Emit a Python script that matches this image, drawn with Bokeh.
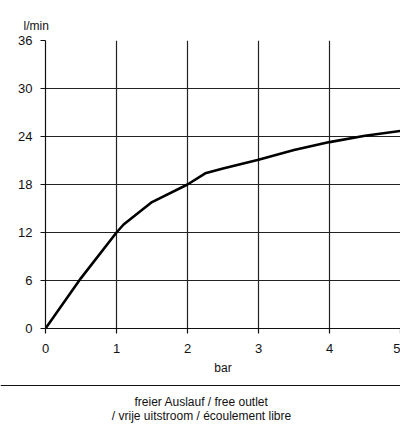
from bokeh.plotting import figure
from bokeh.layouts import column
from bokeh.models import Range1d, FixedTicker, Title
from bokeh.core.properties import value
from bokeh.embed import file_html
from bokeh.resources import INLINE

# data
pressure_bar = [0, 0.5, 1, 1.1, 1.5, 2, 2.25, 2.5, 3, 3.5, 4, 4.5, 5]
flow_lmin = [0, 6.3, 12, 13.0, 15.8, 18, 19.4, 20.0, 21.1, 22.3, 23.3, 24.1, 24.7]
x_ticks = [0, 1, 2, 3, 4, 5]
y_ticks = [0, 6, 12, 18, 24, 30, 36]
y_unit = "l/min"
x_unit = "bar"
footer_lines = ["freier Auslauf / free outlet", "/ vrije uitstroom / écoulement libre"]

FONT = "'Liberation Sans Narrow', 'Liberation Sans', Arial, sans-serif"
INK = "#111111"

p = figure(width=400, height=377, output_backend="svg", toolbar_location=None,
           x_range=Range1d(0, 5), y_range=Range1d(0, 36))
p.min_border_left = 45
p.min_border_top = 40
p.min_border_right = 0
p.min_border_bottom = 49
p.outline_line_color = None

for ax in (p.xaxis[0], p.yaxis[0]):
    ax.axis_line_color = INK
    ax.axis_line_width = 1.2
    ax.major_tick_line_color = INK
    ax.major_tick_line_width = 1.2
    ax.major_tick_in = 0
    ax.major_tick_out = 5
    ax.minor_tick_line_color = None
    ax.major_label_text_font = FONT
    ax.major_label_text_font_size = "13px"
    ax.major_label_text_color = INK

p.xaxis[0].ticker = FixedTicker(ticks=x_ticks)
p.yaxis[0].ticker = FixedTicker(ticks=y_ticks)
p.xaxis[0].major_label_standoff = 10
p.yaxis[0].major_label_standoff = 8
p.xaxis[0].axis_label = x_unit
p.xaxis[0].axis_label_standoff = 5
p.xaxis[0].axis_label_text_font = FONT
p.xaxis[0].axis_label_text_font_size = "12px"
p.xaxis[0].axis_label_text_font_style = "normal"
p.xaxis[0].axis_label_text_color = INK

p.xgrid[0].ticker = FixedTicker(ticks=x_ticks)
p.ygrid[0].ticker = FixedTicker(ticks=y_ticks)
for g in (p.xgrid[0], p.ygrid[0]):
    g.grid_line_color = "#222222"
    g.grid_line_width = 1.2
    g.grid_line_alpha = 1.0

p.line(pressure_bar, flow_lmin, line_color="black", line_width=2.6)

p.add_layout(Title(text=y_unit, align="left", offset=-22, standoff=15,
                   text_font=FONT, text_font_size="12px", text_font_style="normal",
                   text_color=INK), "above")

# footer strip: separator line and caption
f = figure(width=400, height=50, output_backend="svg", toolbar_location=None,
           x_range=Range1d(0, 400), y_range=Range1d(50, 0),
           min_border=0, min_border_left=0, min_border_right=0,
           min_border_top=0, min_border_bottom=0)
f.axis.visible = False
f.grid.visible = False
f.outline_line_color = None
f.segment(x0=[0], y0=[8], x1=[400], y1=[8], line_color=INK, line_width=1.2)
f.text(x=[201, 201], y=[24, 38], text=footer_lines, text_font=value(FONT),
       text_font_size="12px", text_align="center", text_baseline="middle",
       text_color=INK)

for fig in (p, f):
    if "frame_align" in fig.properties():
        fig.frame_align = False

layout = column(p, f, spacing=0)
open("out.html", "w").write(file_html(layout, INLINE))
